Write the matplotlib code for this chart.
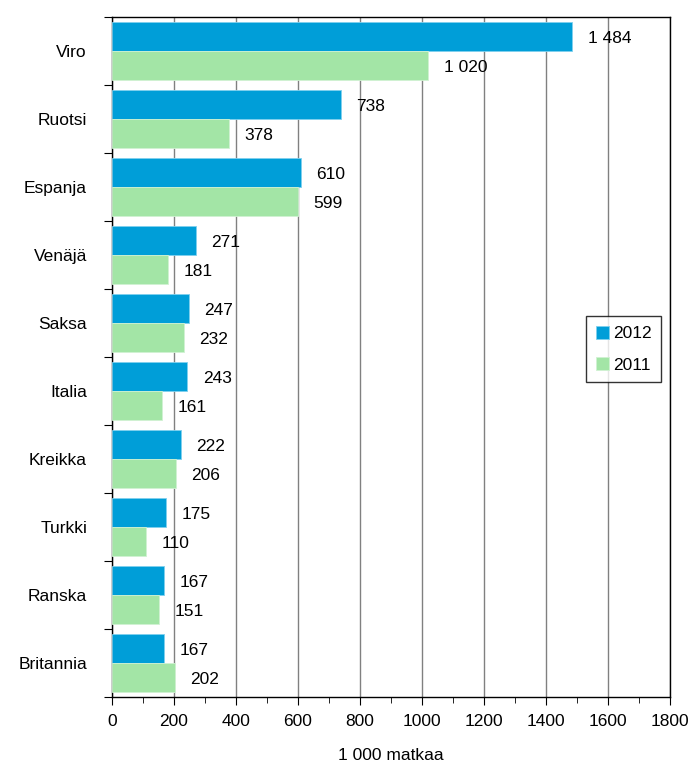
import matplotlib.pyplot as plt
import numpy as np

plt.rcParams['font.family'] = ['Liberation Sans', 'DejaVu Sans']

maat = ['Viro', 'Ruotsi', 'Espanja', 'Venäjä', 'Saksa', 'Italia',
        'Kreikka', 'Turkki', 'Ranska', 'Britannia']
v2012 = [1484, 738, 610, 271, 247, 243, 222, 175, 167, 167]
v2011 = [1020, 378, 599, 181, 232, 161, 206, 110, 151, 202]

def fmt(v):
    return f'{v:,}'.replace(',', ' ')

fig = plt.figure(figsize=(6.93, 7.69), dpi=100)
ax = fig.add_axes([112/693, 1-697/769, (670-112)/693, (697-17)/769])

fs = 12.5
y = np.arange(len(maat))
h = 0.42
ax.barh(y - h/2, v2012, height=h, color='#009ed8', edgecolor='#7fd0ee', linewidth=0.6, label='2012', zorder=3)
ax.barh(y + h/2, v2011, height=h, color='#a3e5a6', edgecolor='#d0f2d2', linewidth=0.6, label='2011', zorder=3)

for i in range(len(maat)):
    ax.text(v2012[i] + 50, y[i] - h/2 + 0.03, fmt(v2012[i]), va='center', ha='left', fontsize=fs)
    ax.text(v2011[i] + 50, y[i] + h/2 + 0.03, fmt(v2011[i]), va='center', ha='left', fontsize=fs)

ax.set_xlim(0, 1800)
ax.set_ylim(len(maat) - 0.5, -0.5)
ax.set_xticks(range(0, 1801, 200))
ax.set_xticks(range(100, 1800, 200), minor=True)
ax.tick_params(axis='x', which='major', length=6, direction='out', labelsize=fs, pad=6)
ax.tick_params(axis='x', which='minor', length=4, direction='out')

ax.set_yticks(np.arange(-0.5, len(maat), 1.0))
ax.set_yticklabels([])
ax.tick_params(axis='y', which='major', length=6, direction='out')
ax.set_yticks(y, minor=True)
ax.set_yticklabels(maat, minor=True, fontsize=fs)
ax.tick_params(axis='y', which='minor', length=0, pad=18)

ax.grid(axis='x', which='major', color='#808080', linewidth=1, zorder=0)
ax.set_axisbelow(True)
for s in ax.spines.values():
    s.set_color('black')
    s.set_linewidth(1)

ax.set_xlabel('1 000 matkaa', fontsize=fs, labelpad=14)

leg = ax.legend(loc='upper left', bbox_to_anchor=(586/693, 1-316/769), bbox_transform=fig.transFigure,
                fontsize=fs, frameon=True, fancybox=False, edgecolor='black',
                handlelength=0.8, handleheight=0.8, handletextpad=0.2, borderpad=0.55,
                labelspacing=0.9, borderaxespad=0)
leg.get_frame().set_linewidth(1)

fig.savefig('out.png', dpi=100)
